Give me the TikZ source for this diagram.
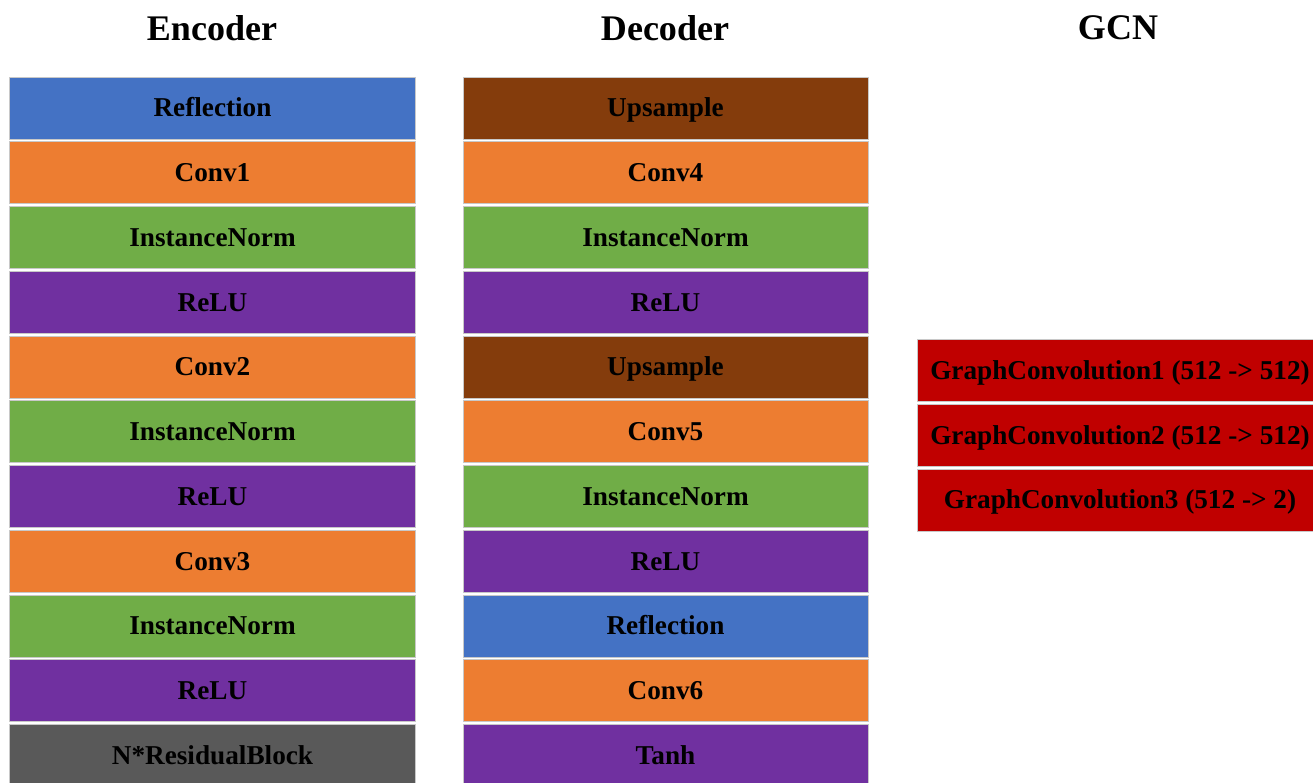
\documentclass[tikz,border=0pt]{standalone}
\usepackage{fontspec}
\setmainfont{Liberation Serif}
\usetikzlibrary{positioning}
\definecolor{reflblue}{HTML}{4472C4}
\definecolor{convorange}{HTML}{ED7D31}
\definecolor{normgreen}{HTML}{70AD47}
\definecolor{relupurple}{HTML}{7030A0}
\definecolor{upbrown}{HTML}{843C0C}
\definecolor{resgray}{HTML}{595959}
\definecolor{gcnred}{HTML}{C00000}
\definecolor{edgegray}{HTML}{C8C8C8}

\begin{document}
\begin{tikzpicture}[layer/.style={rectangle,draw=edgegray,line width=0.02cm,inner sep=0pt,
    minimum width=8.1cm,minimum height=1.24cm,text height=12pt,text depth=2pt,
    font=\fontsize{15.5}{18}\selectfont\bfseries},
  heading/.style={font=\fontsize{20.5}{24}\selectfont\bfseries}]
\useasboundingbox (0,0) rectangle (26.26,-15.64);

% column titles
\node[heading] (enctitle) at (4.24,-0.56) {Encoder};
\node[heading] (dectitle) at (13.30,-0.56) {Decoder};
\node[heading] (gcntitle) at (22.36,-0.56) {GCN};

% encoder
\node[layer,fill=reflblue] (enc0) at (4.25,-2.16) {Reflection};
\node[layer,fill=convorange] (enc1) at (4.25,-3.455) {Conv1};
\node[layer,fill=normgreen] (enc2) at (4.25,-4.75) {InstanceNorm};
\node[layer,fill=relupurple] (enc3) at (4.25,-6.045) {ReLU};
\node[layer,fill=convorange] (enc4) at (4.25,-7.34) {Conv2};
\node[layer,fill=normgreen] (enc5) at (4.25,-8.635) {InstanceNorm};
\node[layer,fill=relupurple] (enc6) at (4.25,-9.93) {ReLU};
\node[layer,fill=convorange] (enc7) at (4.25,-11.225) {Conv3};
\node[layer,fill=normgreen] (enc8) at (4.25,-12.52) {InstanceNorm};
\node[layer,fill=relupurple] (enc9) at (4.25,-13.815) {ReLU};
\node[layer,fill=resgray] (enc10) at (4.25,-15.11) {N*ResidualBlock};

% decoder
\node[layer,fill=upbrown] (dec0) at (13.31,-2.16) {Upsample};
\node[layer,fill=convorange] (dec1) at (13.31,-3.455) {Conv4};
\node[layer,fill=normgreen] (dec2) at (13.31,-4.75) {InstanceNorm};
\node[layer,fill=relupurple] (dec3) at (13.31,-6.045) {ReLU};
\node[layer,fill=upbrown] (dec4) at (13.31,-7.34) {Upsample};
\node[layer,fill=convorange] (dec5) at (13.31,-8.635) {Conv5};
\node[layer,fill=normgreen] (dec6) at (13.31,-9.93) {InstanceNorm};
\node[layer,fill=relupurple] (dec7) at (13.31,-11.225) {ReLU};
\node[layer,fill=reflblue] (dec8) at (13.31,-12.52) {Reflection};
\node[layer,fill=convorange] (dec9) at (13.31,-13.815) {Conv6};
\node[layer,fill=relupurple] (dec10) at (13.31,-15.11) {Tanh};

% gcn
\node[layer,fill=gcnred] (gcn0) at (22.4,-7.41) {GraphConvolution1 (512 -> 512)};
\node[layer,fill=gcnred] (gcn1) at (22.4,-8.705) {GraphConvolution2 (512 -> 512)};
\node[layer,fill=gcnred] (gcn2) at (22.4,-10.0) {GraphConvolution3 (512 -> 2)};
\end{tikzpicture}
\end{document}
